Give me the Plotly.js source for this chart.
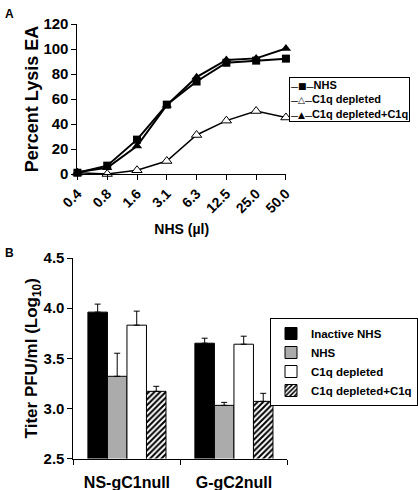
<!DOCTYPE html>
<html>
<head>
<meta charset="utf-8">
<script src="https://cdn.plot.ly/plotly-3.0.1.min.js"></script>
<style>html,body{margin:0;padding:0;background:#fff;}#chart{width:418px;height:490px;}</style>
</head>
<body>
<div id="chart"></div>
<script>
// Panel A data
const doses = ['0.4','0.8','1.6','3.1','6.3','12.5','25.0','50.0'];
const lysisNHS = [1, 6.7, 27.5, 55.5, 74, 89, 90.7, 92.3];
const lysisC1qDepleted = [1, 0, 3, 10.4, 31.2, 42.7, 50.4, 45.2];
const lysisC1qDepletedPlusC1q = [1.5, 5, 22.4, 55, 77.5, 91.2, 92.5, 100.5];
const seriesNamesA = ['NHS', 'C1q depleted', 'C1q depleted+C1q'];
const legendGlyphsA = ['\u25A0', '\u25B3', '\u25B2'];

// Panel B data
const strains = ['NS-gC1null', 'G-gC2null'];
const seriesNamesB = ['Inactive NHS', 'NHS', 'C1q depleted', 'C1q depleted+C1q'];
const titerInactiveNHS = [3.96, 3.65];
const errInactiveNHS = [0.08, 0.05];
const titerNHS = [3.32, 3.03];
const errNHS = [0.23, 0.03];
const titerC1qDepleted = [3.83, 3.64];
const errC1qDepleted = [0.14, 0.08];
const titerC1qDepletedPlusC1q = [3.17, 3.07];
const errC1qDepletedPlusC1q = [0.05, 0.08];
const noLowerErr = [0, 0];

const FONT = 'Arial, "Liberation Sans", sans-serif';
const W = 418, H = 490;
const px = v => v / W;
const py = v => 1 - v / H;

const lineStyle = {color: '#000', width: 2};
const traces = [
  {x: doses, y: lysisNHS, name: seriesNamesA[0], type: 'scatter', mode: 'lines+markers',
   line: lineStyle, marker: {symbol: 'square', size: 8, color: '#000'},
   xaxis: 'x', yaxis: 'y', cliponaxis: false, showlegend: false},
  {x: doses, y: lysisC1qDepleted, name: seriesNamesA[1], type: 'scatter', mode: 'lines+markers',
   line: {color: '#000', width: 1.5}, marker: {symbol: 'triangle-up', size: 9, color: '#fff', line: {color: '#000', width: 1}},
   xaxis: 'x', yaxis: 'y', cliponaxis: false, showlegend: false},
  {x: doses, y: lysisC1qDepletedPlusC1q, name: seriesNamesA[2], type: 'scatter', mode: 'lines+markers',
   line: lineStyle, marker: {symbol: 'triangle-up', size: 9, color: '#000'},
   xaxis: 'x', yaxis: 'y', cliponaxis: false, showlegend: false},

  {x: strains, y: titerInactiveNHS, name: seriesNamesB[0], type: 'bar',
   marker: {color: '#000', line: {color: '#000', width: 1}},
   error_y: {type: 'data', symmetric: false, array: errInactiveNHS, arrayminus: noLowerErr, width: 3, thickness: 1, color: '#000'},
   xaxis: 'x2', yaxis: 'y2', legend: 'legend2'},
  {x: strains, y: titerNHS, name: seriesNamesB[1], type: 'bar',
   marker: {color: '#ababab', line: {color: '#000', width: 1}},
   error_y: {type: 'data', symmetric: false, array: errNHS, arrayminus: noLowerErr, width: 3, thickness: 1, color: '#000'},
   xaxis: 'x2', yaxis: 'y2', legend: 'legend2'},
  {x: strains, y: titerC1qDepleted, name: seriesNamesB[2], type: 'bar',
   marker: {color: '#fff', line: {color: '#000', width: 1}},
   error_y: {type: 'data', symmetric: false, array: errC1qDepleted, arrayminus: noLowerErr, width: 3, thickness: 1, color: '#000'},
   xaxis: 'x2', yaxis: 'y2', legend: 'legend2'},
  {x: strains, y: titerC1qDepletedPlusC1q, name: seriesNamesB[3], type: 'bar',
   marker: {color: '#fff', line: {color: '#000', width: 1},
            pattern: {shape: '/', fgcolor: '#000', bgcolor: '#fff', size: 4, solidity: 0.5}},
   error_y: {type: 'data', symmetric: false, array: errC1qDepletedPlusC1q, arrayminus: noLowerErr, width: 3, thickness: 1, color: '#000'},
   xaxis: 'x2', yaxis: 'y2', legend: 'legend2'}
];

// Compact key for panel A (line-marker-line glyph followed by the series name)
const dash = '<span style="font-size:7px">\u2014</span>';
const keyA = seriesNamesA.map((n, i) =>
  dash + '<span style="font-family:DejaVu Sans;font-size:9px">' + legendGlyphsA[i] + '</span>' + dash + n
).join('<br>');

const axisCommon = {showline: true, linecolor: '#000', linewidth: 1, ticks: 'outside', ticklen: 5,
  tickwidth: 1, tickcolor: '#000', showgrid: false, zeroline: false, automargin: false};

const layout = {
  width: W, height: H,
  margin: {l: 0, r: 0, t: 0, b: 0},
  paper_bgcolor: '#fff', plot_bgcolor: 'rgba(0,0,0,0)',
  font: {family: FONT, color: '#000', weight: 'bold'},
  barmode: 'group', bargap: 0.27, bargroupgap: 0,
  xaxis: Object.assign({}, axisCommon, {
    domain: [px(78), px(288)], anchor: 'y', type: 'category', range: [0, 7],
    tickangle: -45, tickfont: {size: 14, family: FONT, weight: 'bold'},
    title: {text: 'NHS (\u00b5l)', font: {size: 14, family: FONT, weight: 'bold'}, standoff: 9}
  }),
  yaxis: Object.assign({}, axisCommon, {
    domain: [py(174), py(24)], anchor: 'x', range: [0, 120], dtick: 20,
    tickfont: {size: 15, family: FONT, weight: 'bold'},
    title: {text: 'Percent Lysis EA', font: {size: 18, family: FONT, weight: 'bold'}, standoff: 0}
  }),
  xaxis2: Object.assign({}, axisCommon, {
    domain: [px(74), px(289.5)], anchor: 'y2', type: 'category', tickson: 'boundaries',
    ticklabelstandoff: 9,
    tickfont: {size: 16, family: FONT, weight: 'bold'}
  }),
  yaxis2: Object.assign({}, axisCommon, {
    domain: [py(458.5), py(258)], anchor: 'x2', range: [2.5, 4.5], dtick: 0.5, tickformat: '.1f',
    tickfont: {size: 15, family: FONT, weight: 'bold'},
    title: {text: 'Titer PFU/ml (Log<sub>10</sub>)', font: {size: 17, family: FONT, weight: 'bold'}, standoff: 1}
  }),
  legend2: {x: px(272), y: py(318), xanchor: 'left', yanchor: 'top', bgcolor: '#fff',
    bordercolor: '#000', borderwidth: 1, font: {size: 11.5, family: FONT, weight: 'bold'},
    itemwidth: 30, tracegroupgap: 0},
  showlegend: true,
  annotations: [
    {text: keyA, x: px(413), y: py(77), xref: 'paper', yref: 'paper', xanchor: 'right', yanchor: 'top',
     align: 'left', showarrow: false, bgcolor: '#fff', bordercolor: '#000', borderwidth: 1, borderpad: 1,
     font: {size: 11, family: FONT, weight: 'bold'}},
    {text: 'A', x: px(3), y: py(5), xref: 'paper', yref: 'paper', xanchor: 'left', yanchor: 'top',
     showarrow: false, font: {size: 12, family: FONT, weight: 'bold'}},
    {text: 'B', x: px(3), y: py(244), xref: 'paper', yref: 'paper', xanchor: 'left', yanchor: 'top',
     showarrow: false, font: {size: 12, family: FONT, weight: 'bold'}}
  ]
};

Plotly.newPlot('chart', traces, layout, {staticPlot: true, displayModeBar: false});
</script>
</body>
</html>
